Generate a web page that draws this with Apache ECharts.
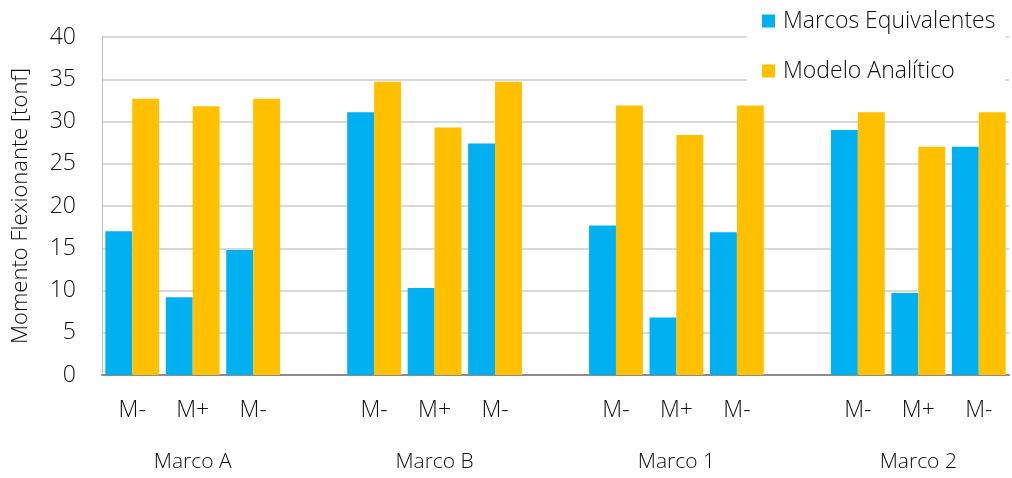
<!DOCTYPE html>
<html>
<head>
<meta charset="utf-8">
<script src="https://cdn.jsdelivr.net/npm/echarts@6/dist/echarts.min.js"></script>
<style>html,body{margin:0;padding:0;background:#fff}#c{width:1012px;height:478px}</style>
</head>
<body>
<div id="c"></div>
<script>
const subLabels = ['M-','M+','M-','','M-','M+','M-','','M-','M+','M-','','M-','M+','M-'];
const groupLabels = ['','Marco A','','','','Marco B','','','','Marco 1','','','','Marco 2',''];
const marcosEquivalentes = [17.0, 9.2, 14.8, null, 31.1, 10.3, 27.4, null, 17.7, 6.8, 16.9, null, 29.0, 9.7, 27.0];
const modeloAnalitico = [32.7, 31.8, 32.7, null, 34.7, 29.3, 34.7, null, 31.9, 28.4, 31.9, null, 31.1, 27.0, 31.1];
const yTicks = {min: 0, max: 40, interval: 5};

const FONT = '"Open Sans", "Noto Sans", sans-serif';
const TXT = '#0d0d0d';
const chart = echarts.init(document.getElementById('c'), null, {renderer: 'canvas'});
chart.setOption({
  animation: false,
  textStyle: {fontFamily: FONT},
  grid: {left: 102, right: 3, top: 37, bottom: 103, containLabel: false, outerBoundsMode: 'none'},
  legend: {
    orient: 'vertical', left: 747, top: 0,
    backgroundColor: '#fff', padding: [9, 10, 14, 15],
    itemWidth: 13, itemHeight: 13, itemGap: 26,
    icon: 'rect',
    textStyle: {fontSize: 23, lineHeight: 24, color: TXT, fontFamily: FONT, fontWeight: 300, padding: [0, 0, 0, 3]},
    data: ['Marcos Equivalentes', 'Modelo Analítico']
  },
  xAxis: [{
    type: 'category', data: subLabels, position: 'bottom',
    axisLine: {lineStyle: {color: '#8c8c8c', width: 2}},
    axisTick: {show: false},
    axisLabel: {interval: 0, fontSize: 23, color: TXT, margin: 24, fontFamily: FONT, fontWeight: 300}
  }, {
    type: 'category', data: groupLabels, position: 'bottom', offset: 0,
    axisLine: {show: false}, axisTick: {show: false},
    axisLabel: {interval: 0, fontSize: 21, color: TXT, margin: 77, fontFamily: FONT, fontWeight: 300}
  }],
  yAxis: {
    type: 'value', min: yTicks.min, max: yTicks.max, interval: yTicks.interval,
    name: 'Momento Flexionante [tonf]', nameLocation: 'middle', nameGap: 70, nameRotate: 90,
    nameTextStyle: {fontSize: 22, color: TXT, fontFamily: FONT, fontWeight: 300},
    axisLine: {show: true, lineStyle: {color: '#bfbfbf', width: 1}},
    axisTick: {show: false},
    axisLabel: {fontSize: 23, color: TXT, margin: 26, fontFamily: FONT, fontWeight: 300},
    splitLine: {lineStyle: {color: '#d9d9d9', width: 2}}
  },
  series: [{
    name: 'Marcos Equivalentes', type: 'bar', xAxisIndex: 0, data: marcosEquivalentes,
    itemStyle: {color: '#00B0F0'}, barGap: '0%', barCategoryGap: '11%'
  }, {
    name: 'Modelo Analítico', type: 'bar', xAxisIndex: 0, data: modeloAnalitico,
    itemStyle: {color: '#FFC000'}, barGap: '0%', barCategoryGap: '11%'
  }]
});
</script>
</body>
</html>
